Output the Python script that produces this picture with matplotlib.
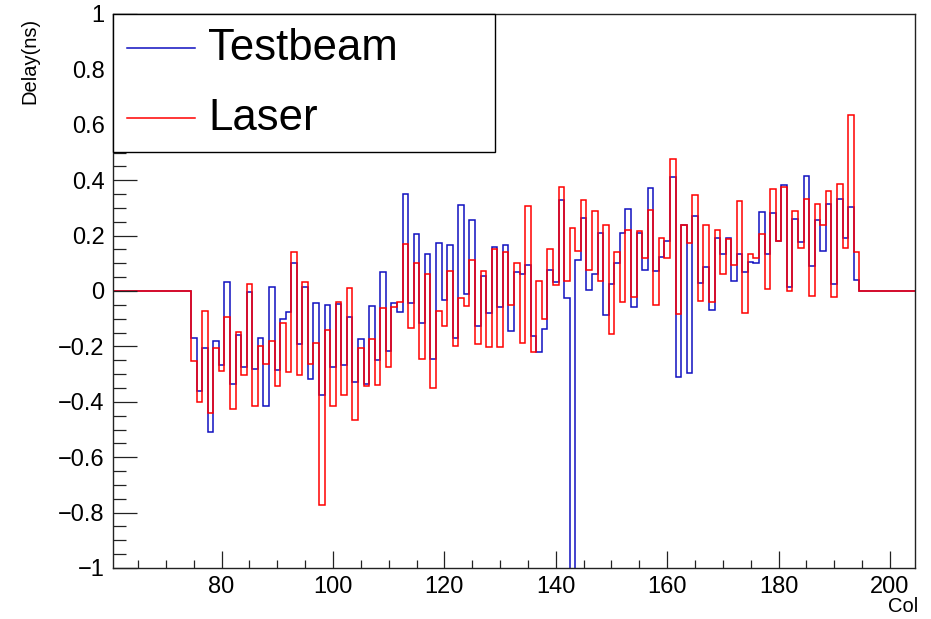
import numpy as np
import matplotlib.pyplot as plt
from matplotlib.patches import Rectangle
from matplotlib.ticker import MultipleLocator, FuncFormatter

plt.rcParams["font.family"] = ["Liberation Sans", "DejaVu Sans"]

# column numbers of the filled bins (bins outside are zero)
cols = np.arange(75, 195)

testbeam = [
    -0.171, -0.362, -0.205, -0.509, -0.180, -0.267, 0.033, -0.336, -0.158, -0.275,
    -0.002, -0.280, -0.171, -0.415, 0.016, -0.287, -0.102, -0.075, 0.100, -0.193,
    0.016, -0.318, -0.045, -0.376, -0.049, -0.275, -0.047, -0.267, -0.093, -0.328,
    -0.175, -0.336, -0.054, -0.250, 0.067, -0.218, -0.045, -0.075, 0.350, -0.045,
    0.206, -0.115, 0.133, -0.245, 0.175, -0.033, 0.167, -0.171, 0.310, -0.011,
    0.255, -0.128, 0.055, -0.080, 0.160, -0.058, 0.167, -0.145, 0.068, 0.063,
    0.093, -0.163, -0.222, -0.137, 0.077, 0.033, 0.328, -0.025, -1.200, 0.111,
    0.263, 0.002, 0.060, 0.210, -0.088, 0.025, 0.102, 0.210, 0.297, -0.057,
    0.208, 0.075, 0.373, 0.072, 0.124, 0.181, 0.411, -0.310, 0.238, -0.296,
    0.272, 0.028, 0.086, -0.070, 0.190, 0.133, 0.193, 0.037, 0.133, 0.068,
    0.103, 0.100, 0.284, 0.133, 0.280, 0.181, 0.382, 0.015, 0.260, 0.176,
    0.415, 0.090, 0.255, 0.145, 0.315, 0.026, 0.333, 0.191, 0.303, 0.041,
]

laser = [
    -0.252, -0.400, -0.072, -0.440, -0.205, -0.288, -0.093, -0.427, -0.149, -0.305,
    0.025, -0.415, -0.198, -0.263, -0.179, -0.344, -0.115, -0.292, 0.141, -0.302,
    0.033, -0.262, -0.187, -0.774, -0.139, -0.415, -0.040, -0.376, 0.011, -0.467,
    -0.205, -0.344, -0.175, -0.340, -0.063, -0.275, -0.057, -0.040, 0.169, -0.132,
    0.100, -0.245, 0.063, -0.350, -0.072, -0.127, 0.072, -0.198, -0.025, -0.054,
    0.111, -0.192, 0.072, -0.202, 0.152, -0.202, 0.141, -0.049, 0.102, -0.187,
    0.306, -0.222, 0.037, -0.102, 0.151, 0.020, 0.375, 0.037, 0.228, 0.146,
    0.327, 0.075, 0.290, 0.037, 0.240, -0.156, 0.141, -0.041, 0.219, -0.021,
    0.216, 0.120, 0.294, -0.049, 0.190, 0.120, 0.475, -0.084, 0.240, 0.172,
    0.345, -0.035, 0.237, -0.040, 0.219, 0.060, 0.186, 0.093, 0.325, -0.079,
    0.132, 0.120, 0.204, 0.008, 0.367, 0.181, 0.374, 0.000, 0.288, 0.156,
    0.333, -0.019, 0.314, 0.237, 0.360, -0.023, 0.388, 0.156, 0.636, 0.142,
]

series_names = ["Testbeam", "Laser"]
series_colors = ["#1010c0", "#ff0000"]

edges = np.arange(60.5, 205.0, 1.0)
centers = edges[:-1] + 0.5


def full_hist(vals):
    h = np.zeros(len(centers))
    h[np.searchsorted(centers, cols)] = vals
    return h


def ylab(v, pos):
    v = round(v, 6)
    if v == 0:
        return "0"
    return f"{v:g}".replace("-", "\u2212")


fig = plt.figure(figsize=(9.31, 6.19), dpi=100)
ax = fig.add_axes([113 / 931, 1 - 568 / 619, 802 / 931, 554 / 619])

for vals, c in zip([testbeam, laser], series_colors):
    ax.stairs(full_hist(vals), edges, color=c, lw=1.1, baseline=None)

ax.set_xlim(edges[0], edges[-1])
ax.set_ylim(-1, 1)

ax.xaxis.set_major_locator(MultipleLocator(20))
ax.xaxis.set_minor_locator(MultipleLocator(5))
ax.yaxis.set_major_locator(MultipleLocator(0.2))
ax.yaxis.set_minor_locator(MultipleLocator(0.05))
ax.yaxis.set_major_formatter(FuncFormatter(ylab))

ax.tick_params(axis="both", which="both", direction="in", top=False, right=False,
               labelsize=17, color="#222222", width=0.9)
ax.tick_params(axis="x", which="major", length=12, pad=6)
ax.tick_params(axis="x", which="minor", length=6)
ax.tick_params(axis="y", which="major", length=17, pad=6)
ax.tick_params(axis="y", which="minor", length=9)
for s in ax.spines.values():
    s.set_linewidth(1.0)
    s.set_color("#222222")

fig.text(30 / 931, 1 - 18 / 619, "Delay(ns)", rotation=90, ha="center", va="top", fontsize=14.5)
fig.text(918 / 931, 1 - 616 / 619, "Col", ha="right", va="bottom", fontsize=14.5)

# legend box in the upper left corner
box_w, box_h = 382 / 802, 138 / 554
ax.add_patch(Rectangle((0, 1 - box_h), box_w, box_h, transform=ax.transAxes,
                       facecolor="white", edgecolor="black", lw=1.0, zorder=5, clip_on=False))
for i, (name, c) in enumerate(zip(series_names, series_colors)):
    yy = 1 - (34 + 70 * i) / 554
    ax.plot([14 / 802, 82 / 802], [yy, yy], transform=ax.transAxes, color=c, lw=1.1, zorder=6)
    ax.text(95 / 802, yy, name, transform=ax.transAxes, fontsize=31.5, va="center", ha="left", zorder=6)

fig.savefig("out.png", dpi=100)
